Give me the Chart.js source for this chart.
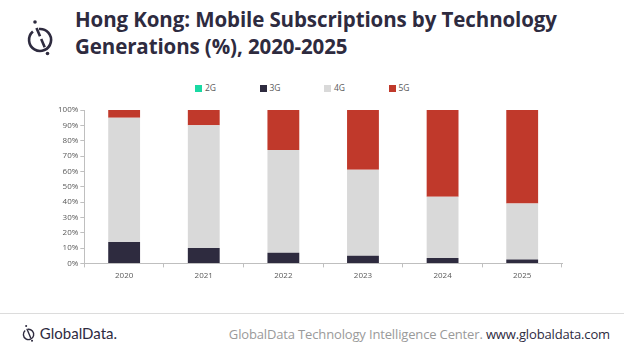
<!DOCTYPE html>
<html><head><meta charset="utf-8">
<script src="https://cdn.jsdelivr.net/npm/chart.js@4/dist/chart.umd.min.js"></script>
<style>
html,body{margin:0;padding:0;background:#fff;width:624px;height:357px;overflow:hidden;font-family:"Open Sans",sans-serif;}
#title{position:absolute;left:75px;top:6px;font-size:20.5px;font-weight:700;color:#2e2b3f;line-height:27px;letter-spacing:-0.1px;}
#logo{position:absolute;left:24px;top:18px;}
#wrap{position:absolute;left:0;top:100px;width:600px;height:185px;}
#legend{position:absolute;top:82px;left:195px;font-size:8.5px;color:#595959;}
#legend span{position:absolute;white-space:nowrap;line-height:12px;}
#legend i{display:inline-block;width:7px;height:7px;margin-right:3px;vertical-align:-0.5px;}
#sep{position:absolute;left:0;top:313px;width:624px;height:1px;background:#dcdcdc;}
#flogo{position:absolute;left:21px;top:324px;font-size:15px;color:#2e2b3f;font-family:"Lato",sans-serif;}
#ftext{position:absolute;right:14px;top:325px;font-size:13px;color:#9a9a9a;letter-spacing:-0.15px;}
#ftext b{font-weight:400;color:#2e2b3f;}
</style></head><body>
<svg id="logo" width="32" height="40" viewBox="0 0 32 40">
  <path d="M15 11 A11 11 0 1 1 8.9 13.6" fill="none" stroke="#2e2b3f" stroke-width="2.6"/>
  <line x1="12.5" y1="10" x2="21" y2="30" stroke="#2e2b3f" stroke-width="2.6" stroke-dasharray="9 3"/>
  <circle cx="11" cy="4" r="1.8" fill="#2e2b3f"/>
  <circle cx="23.5" cy="35.5" r="1.8" fill="#2e2b3f"/>
</svg>
<div id="title">Hong Kong: Mobile Subscriptions by Technology<br>Generations (%), 2020-2025</div>
<div id="legend"></div>
<div id="wrap"><canvas id="c"></canvas></div>
<div id="sep"></div>
<div id="flogo"><svg width="15" height="19" viewBox="0 0 32 40" style="vertical-align:-4px"><path d="M15 11 A11 11 0 1 1 8.9 13.6" fill="none" stroke="#2e2b3f" stroke-width="3"/><line x1="12.5" y1="10" x2="21" y2="30" stroke="#2e2b3f" stroke-width="3"/><circle cx="11" cy="4" r="2.2" fill="#2e2b3f"/><circle cx="23.5" cy="35.5" r="2.2" fill="#2e2b3f"/></svg> GlobalData.</div>
<div id="ftext">GlobalData Technology Intelligence Center. <b>www.globaldata.com</b></div>
<script>
const categories = ["2020","2021","2022","2023","2024","2025"];
const seriesNames = ["2G","3G","4G","5G"];
const s2G = [0,0,0,0,0,0];
const s3G = [14,10,7,5,3.5,2.5];
const s4G = [81,80,67,56,40,36.5];
const s5G = [5,10,26,39,56.5,61];
const yTicks = [0,10,20,30,40,50,60,70,80,90,100];
const colors = ['#19d9a3','#2e2b3f','#d9d9d9','#c0392b'];

const chart = new Chart(document.getElementById('c'), {
  type: 'bar',
  data: {
    labels: categories,
    datasets: [s2G,s3G,s4G,s5G].map((d,i)=>({label:seriesNames[i], data:d, backgroundColor:colors[i]}))
  },
  options: {
    responsive:true, maintainAspectRatio:false, animation:false,
    layout:{padding:{left:56,right:38,top:10,bottom:0}},
    datasets:{bar:{categoryPercentage:1,barPercentage:0.4}},
    plugins:{tooltip:{enabled:false},legend:{display:false}},
    scales:{
      x:{stacked:true,
        grid:{drawOnChartArea:false,tickLength:4,color:'#bfbfbf',offset:true},
        border:{color:'#bfbfbf'},
        ticks:{color:'#595959',font:{family:'Open Sans',size:8},padding:4}},
      y:{stacked:true,min:0,max:100,afterBuildTicks:(ax)=>{ax.ticks=yTicks.map(v=>({value:v}));},
        grid:{drawOnChartArea:false,tickLength:4,color:'#bfbfbf'},
        border:{color:'#bfbfbf'},
        ticks:{color:'#595959',font:{family:'Open Sans',size:8},padding:2,callback:v=>v+'%'}}
    }
  }
});
const lg = document.getElementById('legend');
chart.data.datasets.forEach((ds,i)=>{
  const s=document.createElement('span');
  s.style.left=(i*64.5)+'px';
  s.innerHTML='<i style="background:'+ds.backgroundColor+'"></i>'+ds.label;
  lg.appendChild(s);
});
</script>
</body></html>
